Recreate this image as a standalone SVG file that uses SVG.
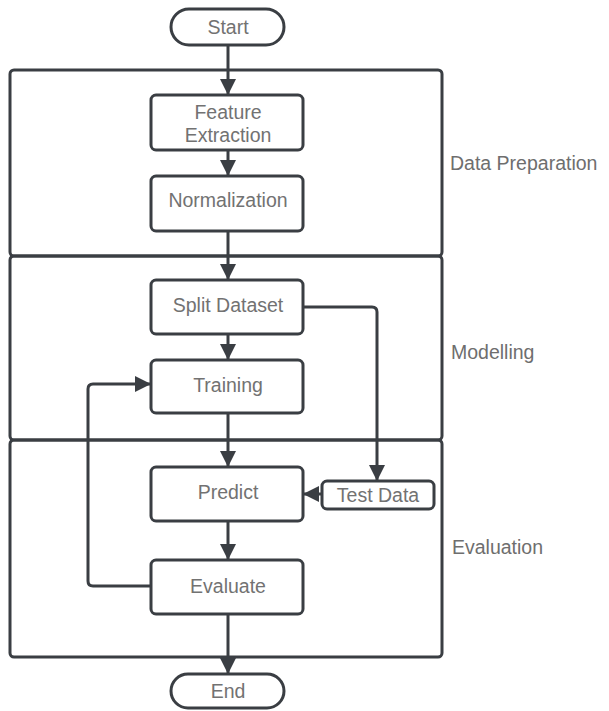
<svg xmlns="http://www.w3.org/2000/svg" width="609" height="711" viewBox="0 0 609 711">
<style>
.lane{fill:none;stroke:#3a3e43;stroke-width:3}
.box{fill:#fff;stroke:#3a3e43;stroke-width:3}
.t{font-family:"Liberation Sans",Arial,sans-serif;font-size:19.5px;fill:#727272;text-anchor:middle;dominant-baseline:central}
.lbl{font-family:"Liberation Sans",Arial,sans-serif;font-size:19.5px;fill:#6e6e6e;dominant-baseline:central}
.c{fill:none;stroke:#3a3e43;stroke-width:3}
</style>
<defs>
<marker id="ah" viewBox="0 0 16 16" refX="15" refY="8" markerWidth="16" markerHeight="16" markerUnits="userSpaceOnUse" orient="auto">
<path d="M0,0 L16,8 L0,16 z" fill="#3a3e43"/>
</marker>
</defs>
<rect width="609" height="711" fill="#fff"/>
<g id="lanes">
<g id="lane-data-preparation"><rect class="lane" x="10" y="70" width="432" height="186" rx="4"/><text class="lbl" x="450" y="163">Data Preparation</text></g>
<g id="lane-modelling"><rect class="lane" x="10" y="256" width="432" height="184" rx="4"/><text class="lbl" x="451" y="352">Modelling</text></g>
<g id="lane-evaluation"><rect class="lane" x="10" y="440" width="432" height="217" rx="4"/><text class="lbl" x="452" y="547">Evaluation</text></g>
</g>
<g id="connectors">
<path class="c" d="M228,45 V94" marker-end="url(#ah)"/>
<path class="c" d="M228,150 V175" marker-end="url(#ah)"/>
<path class="c" d="M228,231 V279" marker-end="url(#ah)"/>
<path class="c" d="M228,334 V359" marker-end="url(#ah)"/>
<path class="c" d="M228,413 V466" marker-end="url(#ah)"/>
<path class="c" d="M228,521 V559" marker-end="url(#ah)"/>
<path class="c" d="M228,614 V673" marker-end="url(#ah)"/>
<path class="c" d="M303,307 H372 Q377,307 377,312 V480" marker-end="url(#ah)"/>
<path class="c" d="M322,494 H304" marker-end="url(#ah)"/>
<path class="c" d="M151,586 H93 Q88,586 88,581 V389 Q88,384 93,384 H150" marker-end="url(#ah)"/>
</g>
<g id="start"><rect class="box" x="171" y="9" width="113" height="36" rx="18"/><text class="t" x="228" y="27">Start</text></g>
<g id="feature-extraction"><rect class="box" x="151" y="95" width="152" height="55" rx="5"/><text class="t" x="228" y="112">Feature</text><text class="t" x="228" y="135">Extraction</text></g>
<g id="normalization"><rect class="box" x="151" y="176" width="152" height="55" rx="5"/><text class="t" x="228" y="200">Normalization</text></g>
<g id="split-dataset"><rect class="box" x="151" y="280" width="152" height="54" rx="5"/><text class="t" x="228" y="305">Split Dataset</text></g>
<g id="training"><rect class="box" x="151" y="360" width="152" height="53" rx="5"/><text class="t" x="228" y="385">Training</text></g>
<g id="predict"><rect class="box" x="151" y="467" width="152" height="54" rx="5"/><text class="t" x="228" y="492">Predict</text></g>
<g id="test-data"><rect class="box" x="322" y="481" width="112" height="28" rx="5"/><text class="t" x="378" y="495">Test Data</text></g>
<g id="evaluate"><rect class="box" x="151" y="560" width="152" height="54" rx="5"/><text class="t" x="228" y="586">Evaluate</text></g>
<g id="end"><rect class="box" x="171" y="674" width="113" height="34" rx="17"/><text class="t" x="228" y="691">End</text></g>
</svg>
